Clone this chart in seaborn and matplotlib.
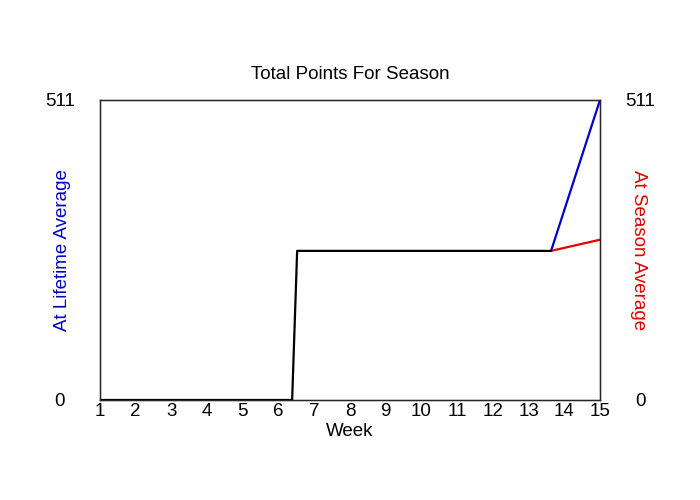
import numpy as np
import pandas as pd
import matplotlib
matplotlib.use("Agg")
import matplotlib.pyplot as plt
import seaborn as sns

# Dati (settimane frazionarie, punti cumulativi)
weeks_base = [1, 6.38, 6.52, 13.63]
points_base = [0, 0, 254, 254]
weeks_proj = [13.63, 15]
lifetime_proj = [254, 511]
season_proj = [254, 273]
x_ticks = list(range(1, 16))
y_max = 511

sns.set_style("white")
plt.rcParams["font.family"] = ["Liberation Sans", "DejaVu Sans"]
plt.rcParams["text.color"] = "black"
plt.rcParams["xtick.color"] = "black"
plt.rcParams["ytick.color"] = "black"
plt.rcParams["axes.labelcolor"] = "black"

fs = 13.5

fig = plt.figure(figsize=(7, 5), dpi=100)
ax = fig.add_axes([100 / 700, 0.2, 500 / 700, 0.6])

life = pd.DataFrame({"week": weeks_proj, "pts": lifetime_proj})
seas = pd.DataFrame({"week": weeks_proj, "pts": season_proj})
base = pd.DataFrame({"week": weeks_base, "pts": points_base})

sns.lineplot(data=life, x="week", y="pts", color="#0000cc", lw=1.6, ax=ax)
sns.lineplot(data=seas, x="week", y="pts", color="#e00000", lw=1.6, ax=ax)
sns.lineplot(data=base, x="week", y="pts", color="black", lw=1.6, ax=ax)

ax.set_xlim(1, 15)
ax.set_ylim(0, y_max)
ax.set_xticks(x_ticks)
ax.set_xticklabels([str(w) for w in x_ticks], fontsize=fs)
ax.set_yticks([0, y_max])
ax.set_yticklabels(["0", str(y_max)], fontsize=fs, ha="center")
ax.tick_params(axis="x", length=0, pad=2)
ax.tick_params(axis="y", length=0, pad=29)
for s in ax.spines.values():
    s.set_color("black")
    s.set_linewidth(1)

ax2 = ax.twinx()
ax2.set_ylim(0, y_max)
ax2.set_yticks([0, y_max])
ax2.set_yticklabels(["0", str(y_max)], fontsize=fs, ha="center")
ax2.tick_params(axis="y", length=0, pad=29)

ax.set_title("Total Points For Season", fontsize=fs, pad=15)
ax.set_xlabel("Week", fontsize=fs, labelpad=2)
ax.set_ylabel("At Lifetime Average", color="#0000cc", fontsize=fs)
ax2.set_ylabel("At Season Average", color="#e00000", fontsize=fs, rotation=-90)
ax.yaxis.set_label_coords(-29 / 500, 0.5)
ax2.yaxis.set_label_coords(1 + 47 / 500, 0.5)

fig.savefig("out.png", dpi=100)
